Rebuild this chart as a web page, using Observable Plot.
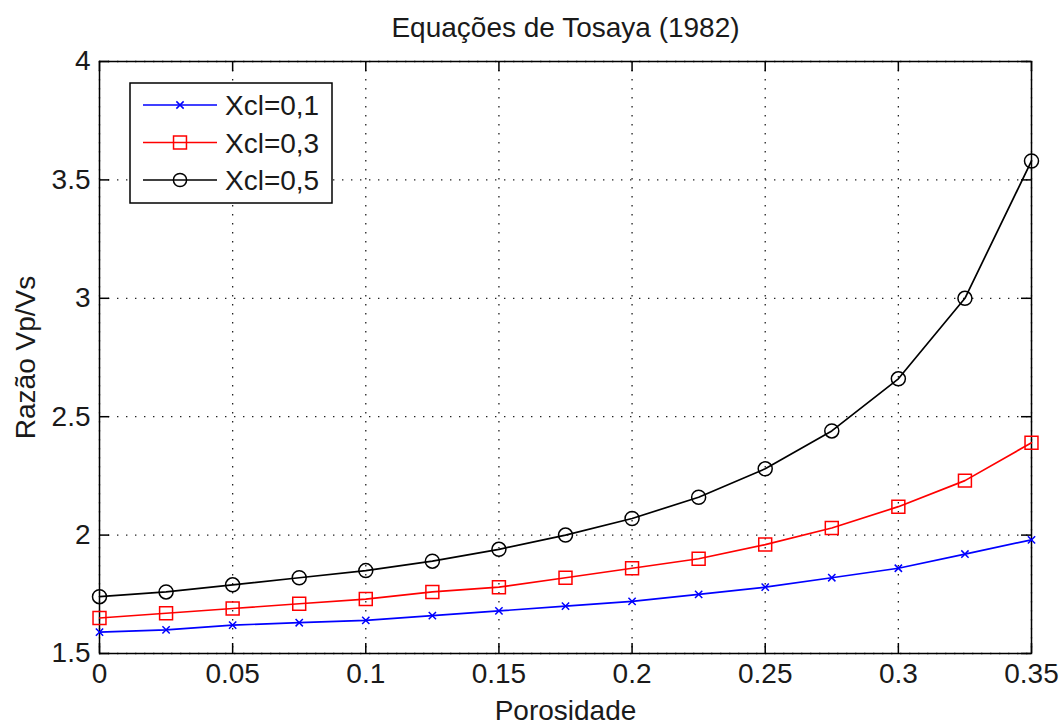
<!DOCTYPE html>
<html>
<head>
<meta charset="utf-8">
<script src="https://cdn.jsdelivr.net/npm/d3@7"></script>
<script src="https://cdn.jsdelivr.net/npm/@observablehq/plot@0.6"></script>
<style>
  body { margin: 0; background: #fff; }
  #chart svg { display: block; background: #fff; }
</style>
</head>
<body>
<div id="chart"></div>
<script>
// Vp/Vs ratio vs porosity for three clay fractions (Tosaya, 1982)
const porosity = [0, 0.025, 0.05, 0.075, 0.1, 0.125, 0.15, 0.175, 0.2, 0.225, 0.25, 0.275, 0.3, 0.325, 0.35];
const xcl01 = [1.59, 1.60, 1.62, 1.63, 1.64, 1.66, 1.68, 1.70, 1.72, 1.75, 1.78, 1.82, 1.86, 1.92, 1.98];
const xcl03 = [1.65, 1.67, 1.69, 1.71, 1.73, 1.76, 1.78, 1.82, 1.86, 1.90, 1.96, 2.03, 2.12, 2.23, 2.39];
const xcl05 = [1.74, 1.76, 1.79, 1.82, 1.85, 1.89, 1.94, 2.00, 2.07, 2.16, 2.28, 2.44, 2.66, 3.00, 3.58];

const seriesNames = ["Xcl=0,1", "Xcl=0,3", "Xcl=0,5"];
const seriesColors = ["#0000ff", "#ff0000", "#000000"];
const seriesSymbols = ["times", "square", "circle"];
const seriesR = [3.4, 7.3, 7];

const xTicks = [0, 0.05, 0.1, 0.15, 0.2, 0.25, 0.3, 0.35];
const yTicks = [1.5, 2, 2.5, 3, 3.5, 4];

const titleText = "Equações de Tosaya (1982)";
const xLabel = "Porosidade";
const yLabel = "Razão Vp/Vs";

const seriesValues = [xcl01, xcl03, xcl05];
const rows = seriesValues.flatMap((vals, i) =>
  vals.map((v, j) => ({ series: seriesNames[i], x: porosity[j], y: v }))
);

const W = 1062, H = 724;
const mL = 99, mR = 31, mT = 61, mB = 71;
const plotW = W - mL - mR, plotH = H - mT - mB;
const tickLen = 10;
const font = "'Liberation Sans', Arial, Helvetica, sans-serif";
const gridStyle = { stroke: "#222", strokeWidth: 1.3, strokeOpacity: 1, strokeDasharray: "1.4,7.6" };

const marks = [
  Plot.gridX(xTicks, gridStyle),
  Plot.gridY(yTicks, gridStyle),
  // inward ticks on all four sides
  Plot.ruleX(xTicks, { x: d => d, insetTop: plotH - tickLen, stroke: "#000", strokeWidth: 1.5 }),
  Plot.ruleX(xTicks, { x: d => d, insetBottom: plotH - tickLen, stroke: "#000", strokeWidth: 1.5 }),
  Plot.ruleY(yTicks, { y: d => d, insetRight: plotW - tickLen, stroke: "#000", strokeWidth: 1.5 }),
  Plot.ruleY(yTicks, { y: d => d, insetLeft: plotW - tickLen, stroke: "#000", strokeWidth: 1.5 }),
  Plot.axisX(xTicks, {
    tickSize: 0, tickPadding: 10, tickFormat: d => String(d),
    label: xLabel, labelAnchor: "center", labelOffset: 66, labelArrow: "none", fill: "#1a1a1a"
  }),
  Plot.axisY(yTicks, {
    tickSize: 0, tickPadding: 9, tickFormat: d => String(d),
    label: yLabel, labelAnchor: "center", labelOffset: 84, labelArrow: "none", fill: "#1a1a1a"
  }),
  Plot.text([titleText], { frameAnchor: "top", lineAnchor: "top", dy: -44, fill: "#1a1a1a" }),
  Plot.frame({ stroke: "#000", strokeWidth: 1.5 })
];

seriesNames.forEach((name, i) => {
  const data = rows.filter(d => d.series === name);
  marks.push(Plot.line(data, { x: "x", y: "y", stroke: seriesColors[i], strokeWidth: 1.7 }));
  marks.push(Plot.dot(data, {
    x: "x", y: "y", symbol: () => seriesSymbols[i], r: seriesR[i],
    stroke: seriesColors[i], fill: "none", strokeWidth: 1.5
  }));
});

const chart = Plot.plot({
  width: W, height: H,
  marginLeft: mL, marginRight: mR, marginTop: mT, marginBottom: mB,
  style: { fontFamily: font, fontSize: "28px", background: "#fff", overflow: "visible" },
  x: { domain: [0, 0.35] },
  y: { domain: [1.5, 4] },
  marks
});

// legend box in the upper-left corner of the axes
const svg = d3.select(chart);
const lg = svg.append("g").attr("class", "legend").attr("text-anchor", "start");
lg.append("rect")
  .attr("x", 130).attr("y", 83).attr("width", 202).attr("height", 120)
  .attr("fill", "#fff").attr("stroke", "#000").attr("stroke-width", 1.5);
const symbolTypes = { times: d3.symbolTimes, square: d3.symbolSquare, circle: d3.symbolCircle };
const legendR = [3.4, 7.3, 6.6];
seriesNames.forEach((name, i) => {
  const cy = 105 + i * 37.5;
  lg.append("line")
    .attr("x1", 143).attr("x2", 217).attr("y1", cy).attr("y2", cy)
    .attr("stroke", seriesColors[i]).attr("stroke-width", 1.7);
  lg.append("path")
    .attr("transform", `translate(180,${cy})`)
    .attr("d", d3.symbol(symbolTypes[seriesSymbols[i]], legendR[i] * legendR[i] * Math.PI)())
    .attr("fill", "none").attr("stroke", seriesColors[i]).attr("stroke-width", 1.5);
  lg.append("text")
    .attr("x", 225).attr("y", cy + 10)
    .attr("text-anchor", "start")
    .attr("font-family", font).attr("font-size", 28).attr("fill", "#1a1a1a")
    .text(name);
});

document.getElementById("chart").appendChild(chart);
</script>
</body>
</html>
